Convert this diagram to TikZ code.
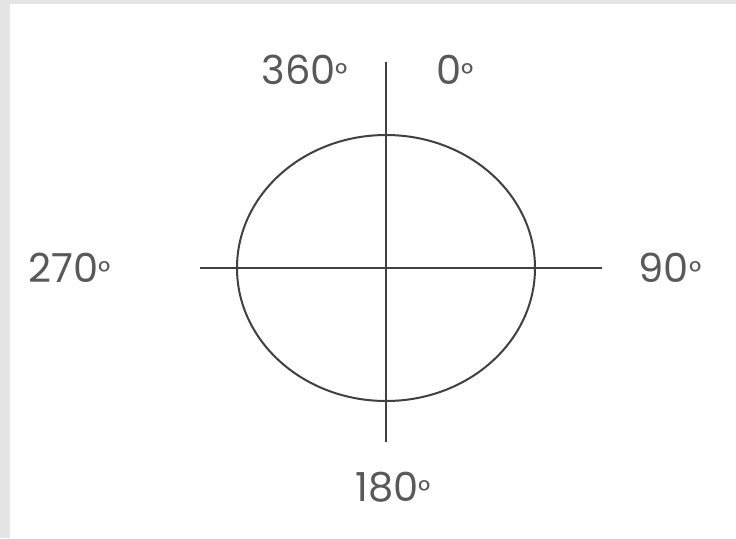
\documentclass[tikz,border=0pt]{standalone}
\usepackage{fontspec}
\setmainfont{Poppins}
\usetikzlibrary{positioning}
\newcommand{\degsign}{{\fontsize{15}{15}\selectfont°}}
\tikzset{
  axis line/.style={line width=1pt, black!75},
  angle label/.style={font=\fontsize{20}{20}\selectfont, text=black!65, inner sep=0pt},
}

\begin{document}
\begin{tikzpicture}[x=0.5pt, y=-0.5pt]
  % Frame
  \fill[gray!20] (0,0) rectangle (736,538);
  \fill[white] (10,4) rectangle (736,538);
  \useasboundingbox (0,0) rectangle (736,538);

  % Centre and axis ends
  \coordinate (c) at (386,268);
  \coordinate (left) at (200,268);
  \coordinate (right) at (602,268);
  \coordinate (top) at (386,62);
  \coordinate (bottom) at (386,442);

  % Axes
  \draw[axis line] (left) -- (right);
  \draw[axis line] (top) -- (bottom);

  % Circle
  \draw[axis line] (c) ellipse (149 and 133);

  % Labels
  \node[angle label] (l360) at (305,70) {360\degsign};
  \node[angle label] (l0) at (455,70) {0\degsign};
  \node[angle label] (l270) at (70,268) {270\degsign};
  \node[angle label] (l90) at (670,268) {90\degsign};
  \node[angle label] (l180) at (393,487) {180\degsign};
\end{tikzpicture}
\end{document}
